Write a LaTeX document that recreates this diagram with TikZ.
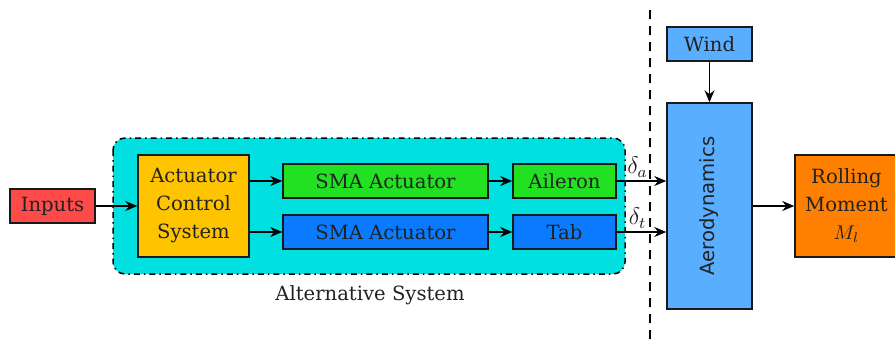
\documentclass[tikz,border=0pt]{standalone}
\usepackage{fontspec}
\setmainfont{DejaVu Serif}
\setsansfont{DejaVu Sans}
\usetikzlibrary{arrows.meta,positioning}

\definecolor{inred}{HTML}{FF4A4A}
\definecolor{altcyan}{HTML}{00E0E0}
\definecolor{acsyellow}{HTML}{FFC400}
\definecolor{smagreen}{HTML}{22E022}
\definecolor{smablue}{HTML}{0A7BFF}
\definecolor{aeroblue}{HTML}{5AAEFF}
\definecolor{rollorange}{HTML}{FF8000}
\definecolor{txt}{HTML}{222222}

\tikzset{
  lblfont/.style={font=\fontsize{9.8}{14}\selectfont},
  blk/.style={draw=black!90, line width=0.75pt, text=txt, inner sep=1pt, align=center, lblfont},
  conn/.style={line width=0.75pt, -{Stealth[length=6pt,width=5pt,inset=2pt]}},
  dlbl/.style={pos=0.42, above, inner sep=1.5pt, text=txt, font=\large},
}

\begin{document}
\begin{tikzpicture}[x=0.5pt,y=-0.5pt]
  \useasboundingbox (0,0) rectangle (895,344);

  % alternative system container
  \draw[fill=altcyan, line width=0.75pt, dash dot, rounded corners=6pt]
    (113,138) rectangle (625,274);
  \node[text=txt, lblfont] (altlbl) at (370,295) {Alternative System};

  % separation line
  \coordinate (sepTop) at (650,10);
  \coordinate (sepBot) at (650,344);
  \draw[line width=0.8pt, dash pattern=on 4.5pt off 3.5pt] (sepTop) -- (sepBot);

  % blocks
  \node[blk, fill=inred, minimum width=42.5pt, minimum height=17pt] (inputs) at (52.5,206) {Inputs};
  \node[blk, fill=acsyellow, minimum width=55.5pt, minimum height=51pt] (acs) at (193.5,206) {Actuator\\Control\\System};
  \node[blk, fill=smagreen, minimum width=102.5pt, minimum height=17pt] (sma1) at (385.5,181) {SMA Actuator};
  \node[blk, fill=smablue, minimum width=102.5pt, minimum height=17pt] (sma2) at (385.5,232) {SMA Actuator};
  \node[blk, fill=smagreen, minimum width=51.5pt, minimum height=17pt] (ail) at (564.5,181) {Aileron};
  \node[blk, fill=smablue, minimum width=51.5pt, minimum height=17pt] (tab) at (564.5,232) {Tab};
  \node[blk, fill=aeroblue, minimum width=42.5pt, minimum height=17pt] (wind) at (709.5,44) {Wind};
  \node[blk, fill=aeroblue, minimum width=42.5pt, minimum height=103pt] (aero) at (709.5,206)
    {\rotatebox{90}{\sffamily Aerodynamics}};
  \node[blk, fill=rollorange, minimum width=51.5pt, minimum height=51pt] (roll) at (846.5,206)
    {Rolling\\Moment\\$M_l$};

  % connectors
  \draw[conn] (inputs.east) -- (acs.west);
  \draw[conn] (acs.east |- sma1.west) -- (sma1.west);
  \draw[conn] (acs.east |- sma2.west) -- (sma2.west);
  \draw[conn] (sma1.east) -- (ail.west);
  \draw[conn] (sma2.east) -- (tab.west);
  \draw[conn] (ail.east) -- node[dlbl] {$\delta_a$} (aero.west |- ail.east);
  \draw[conn] (tab.east) -- node[dlbl] {$\delta_t$} (aero.west |- tab.east);
  \draw[conn] (wind.south) -- (aero.north);
  \draw[conn] (aero.east) -- (roll.west);
\end{tikzpicture}
\end{document}
